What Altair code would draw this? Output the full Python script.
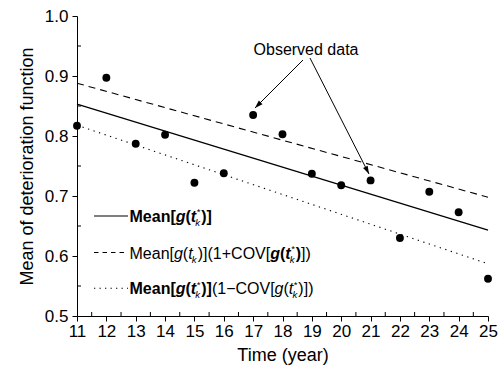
import math
import altair as alt
import pandas as pd

# ---------------- data ----------------
years = list(range(11, 26))
observed = [0.817, 0.897, 0.787, 0.802, 0.722, 0.738, 0.835, 0.803,
            0.737, 0.718, 0.726, 0.630, 0.707, 0.673, 0.562]

line_years = [11, 25]
mean_line = [0.853, 0.643]
upper_line = [0.888, 0.698]
lower_line = [0.818, 0.587]

x_ticks = list(range(11, 26))
x_minor = [v + 0.5 for v in range(11, 25)]
y_ticks = [0.5, 0.6, 0.7, 0.8, 0.9, 1.0]
y_minor = [0.55, 0.65, 0.75, 0.85, 0.95]

annotation_text = "Observed data"

# ---------------- layout ----------------
W, H = 411, 300
XD = [11, 25]
YD = [0.5, 1.0]
FONT = "Liberation Sans"


def px2x(px):
    return XD[0] + px / W * (XD[1] - XD[0])


def py2y(py):
    return YD[1] - py / H * (YD[1] - YD[0])


xscale = alt.Scale(domain=XD, nice=False, zero=False)
yscale = alt.Scale(domain=YD, nice=False, zero=False)
xaxis = alt.Axis(values=x_ticks, format="d", title="Time (year)", grid=False,
                 tickSize=5, labelPadding=2, titlePadding=7, labelFlush=False)
yaxis = alt.Axis(values=y_ticks, format=".1f", title="Mean of deterioration function",
                 grid=False, tickSize=5, labelPadding=4, titlePadding=8, labelFlush=False)


def X(field):
    return alt.X(field, type="quantitative", scale=xscale, axis=xaxis)


def Y(field):
    return alt.Y(field, type="quantitative", scale=yscale, axis=yaxis)


pts = pd.DataFrame({"year": years, "value": observed})
lines = pd.DataFrame({"year": line_years, "mean": mean_line,
                      "upper": upper_line, "lower": lower_line})

points = alt.Chart(pts).mark_point(filled=True, color="black", size=62, opacity=1).encode(
    x=X("year"), y=Y("value"))

l_mean = alt.Chart(lines).mark_line(color="black", strokeWidth=1.3).encode(
    x=X("year"), y=Y("mean"))
l_up = alt.Chart(lines).mark_line(color="black", strokeWidth=1.1, strokeDash=[7, 5]).encode(
    x=X("year"), y=Y("upper"))
l_lo = alt.Chart(lines).mark_line(color="black", strokeWidth=1.1, strokeDash=[1.3, 4.5]).encode(
    x=X("year"), y=Y("lower"))

# minor ticks (inside)
xm = alt.Chart(pd.DataFrame({"m": x_minor})).mark_rule(color="black", strokeWidth=1).encode(
    x=X("m"), y=alt.value(H), y2=alt.value(H - 4))
ym = alt.Chart(pd.DataFrame({"m": y_minor})).mark_rule(color="black", strokeWidth=1).encode(
    y=Y("m"), x=alt.value(0), x2=alt.value(4))

# annotation with arrows (pixel layout converted to data space)
ann_px = (229, 38.8)
arrow_px = [((226, 44), (178, 92)), ((233, 42), (292, 158))]
ann_df = pd.DataFrame({"x": [px2x(ann_px[0])], "y": [py2y(ann_px[1])], "t": [annotation_text]})
ann = alt.Chart(ann_df).mark_text(font=FONT, fontSize=16, align="center", baseline="alphabetic",
                                  color="black").encode(x=X("x"), y=Y("y"), text="t:N")
arr_df = pd.DataFrame({
    "x": [px2x(a[0][0]) for a in arrow_px], "y": [py2y(a[0][1]) for a in arrow_px],
    "x2": [px2x(a[1][0]) for a in arrow_px], "y2": [py2y(a[1][1]) for a in arrow_px],
})
arr_lines = alt.Chart(arr_df).mark_rule(color="black", strokeWidth=1).encode(
    x=X("x"), y=Y("y"), x2="x2", y2="y2")
head_path = "M0,0 L-0.65,2 L0.65,2 Z"
heads = []
for (s, e) in arrow_px:
    dx, dy = e[0] - s[0], e[1] - s[1]
    ang = math.degrees(math.atan2(dx, -dy)) % 360
    hd = pd.DataFrame({"x": [px2x(e[0])], "y": [py2y(e[1])]})
    heads.append(alt.Chart(hd).mark_point(shape=head_path, filled=True, color="black",
                                          size=64, angle=ang, opacity=1, strokeWidth=0).encode(
        x=X("x"), y=Y("y")))

# ---------------- legend ----------------
REG = {"M": 833, "e": 556, "a": 556, "n": 556, "[": 278, "]": 278, "(": 333, ")": 333,
       "g": 556, "t": 278, "k": 500, "*": 389, "1": 556, "+": 584, "\u2212": 584,
       "C": 722, "O": 778, "V": 667}
BOLD = {"M": 833, "e": 556, "a": 556, "n": 611, "[": 333, "]": 333, "(": 333, ")": 333,
        "g": 611, "t": 333, "k": 556, "*": 389}


def twidth(s, bold, size):
    tbl = BOLD if bold else REG
    return sum(tbl.get(c, 556) for c in s) / 1000.0 * size


FS = 16
SMALL = 0.6 * FS
legend_rows = [
    [("Mean[", "b"), ("g", "bi"), ("(", "b"), ("t", "bi", True, True), (")]", "b")],
    [("Mean[", "r"), ("g", "i"), ("(", "r"), ("t", "i", False, True), (")](1+COV[", "r"),
     ("g", "bi"), ("(", "b"), ("t", "bi", True, True), (")", "b"), ("])", "r")],
    [("Mean[", "b"), ("g", "bi"), ("(", "b"), ("t", "bi", True, True), (")]", "b"),
     ("(1\u2212COV[", "r"), ("g", "i"), ("(", "r"), ("t", "i", True, True), (")])", "r")],
]
row_line_y = [200.0, 236.5, 272.3]
sample_x = (17, 51)
text_x0 = 52.5

segs = []
for r, toks in enumerate(legend_rows):
    cur = text_x0
    base = row_line_y[r] + 6
    for tok in toks:
        txt, st = tok[0], tok[1]
        bold = "b" in st
        ital = "i" in st
        segs.append(dict(t=txt, px=cur, py=base, size=FS, w="bold" if bold else "normal",
                         s="italic" if ital else "normal"))
        cur += twidth(txt, bold, FS)
        if len(tok) > 2:
            has_sup, has_sub = tok[2], tok[3]
            adv = 0
            if has_sup:
                segs.append(dict(t="*", px=cur + 0.5, py=base - 0.42 * FS, size=SMALL,
                                 w="normal", s="normal"))
                adv = max(adv, twidth("*", False, SMALL))
            if has_sub:
                segs.append(dict(t="k", px=cur - 0.8, py=base + 0.26 * FS, size=SMALL,
                                 w="normal", s="italic"))
                adv = max(adv, twidth("k", False, SMALL))
            cur += adv + 0.3

seg_df = pd.DataFrame(segs)
seg_df["x"] = seg_df["px"].map(px2x)
seg_df["y"] = seg_df["py"].map(py2y)

text_layers = []
for w in ["normal", "bold"]:
    for s in ["normal", "italic"]:
        sub = seg_df[(seg_df.w == w) & (seg_df.s == s)]
        if len(sub) == 0:
            continue
        text_layers.append(
            alt.Chart(sub).mark_text(font=FONT, fontWeight=w, fontStyle=s, align="left",
                                     baseline="alphabetic", color="black").encode(
                x=X("x"), y=Y("y"), text="t:N", size=alt.Size("size:Q", scale=None)))

samples = []
dashes = [None, [4.5, 4], [1.3, 4.2]]
for r in range(3):
    kw = dict(color="black", strokeWidth=1.1)
    if dashes[r]:
        kw["strokeDash"] = dashes[r]
    samples.append(alt.Chart(pd.DataFrame({"a": [0]})).mark_rule(**kw).encode(
        x=alt.value(sample_x[0]), x2=alt.value(sample_x[1]), y=alt.value(row_line_y[r])))

chart = alt.layer(
    xm, ym, l_mean, l_up, l_lo, points, arr_lines, *heads, ann, *samples, *text_layers
).properties(
    width=W, height=H,
    padding={"left": 77, "top": 16, "right": 14, "bottom": 55},
    autosize="none",
    background="white",
).configure_view(stroke=None).configure_axis(
    domainColor="black", tickColor="black", labelColor="black", titleColor="black",
    labelFont=FONT, titleFont=FONT, labelFontSize=17, titleFontSize=18,
    titleFontWeight="normal", domainWidth=1, tickWidth=1,
)

chart.save("out.html", embed_options={"renderer": "svg", "actions": False})
